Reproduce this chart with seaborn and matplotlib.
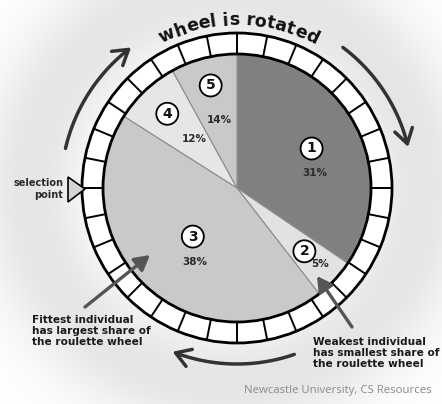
import numpy as np
import matplotlib
matplotlib.use('Agg')
import matplotlib.pyplot as plt
import seaborn as sns
from matplotlib.patches import Wedge, Circle, Polygon
from matplotlib.font_manager import FontProperties, findfont, get_font

# --- data ---
individuals = ['1', '2', '3', '4', '5']
share_labels = ['31%', '5%', '38%', '12%', '14%']
# the sizes the slices are actually drawn with in the picture (% of the wheel)
drawn_share = [34.5, 5.0, 44.5, 8.0, 8.0]
slice_colors = ['#808080', '#e2e2e2', '#c9c9c9', '#e6e6e6', '#c9c9c9']
n_ring_cells = 32

title = 'wheel is rotated'
fittest_note = 'Fittest individual\nhas largest share of\nthe roulette wheel'
weakest_note = 'Weakest individual\nhas smallest share of\nthe roulette wheel'
credit = 'Newcastle University, CS Resources'

sns.set_style('white')
plt.rcParams['font.family'] = ['DejaVu Sans']

W, H = 442, 404
fig = plt.figure(figsize=(W / 100, H / 100), dpi=100)
ax = fig.add_axes([0, 0, 1, 1])

# picture coords: x to the right, y downwards from the top -> flip y
cx, cy = 237, H - 188
r_in, r_out = 134, 155

# soft grey halo just outside the wheel, white further out
xx, yy = np.meshgrid(np.arange(W) + 0.5, np.arange(H) + 0.5)
d = np.hypot(xx - 226, (H - yy) - cy)
lum = np.clip(1 - 0.10 * np.exp(-((d - 195) / 55) ** 2), 0, 1)
ax.imshow(np.dstack([lum] * 3), extent=(0, W, 0, H), origin='upper',
          interpolation='nearest', zorder=0)

# the pie itself
wedges, _ = ax.pie(drawn_share, startangle=90, counterclock=False, center=(cx, cy),
                   radius=r_in, colors=slice_colors,
                   wedgeprops=dict(edgecolor='#8c8c8c', linewidth=0.8))

# outer ring of cells
ax.add_patch(Wedge((cx, cy), r_out, 0, 360, width=r_out - r_in, facecolor='white',
                   edgecolor='black', linewidth=2.0, zorder=3))
for k in range(n_ring_cells):
    a = np.radians(90 + k * 360 / n_ring_cells)
    ax.plot([cx + r_in * np.cos(a), cx + r_out * np.cos(a)],
            [cy + r_in * np.sin(a), cy + r_out * np.sin(a)],
            color='black', lw=1.4, zorder=4)

# circled numbers and percentages
circle_frac = [0.63, 0.69, 0.49, 0.76, 0.79]
pct_offset = [(3, -25), (16, -13), (2, -25), (27, -25), (9, -35)]
for w, num, lab, fr, off in zip(wedges, individuals, share_labels, circle_frac, pct_offset):
    mid = np.radians((w.theta1 + w.theta2) / 2)
    px, py = cx + fr * r_in * np.cos(mid), cy + fr * r_in * np.sin(mid)
    ax.add_patch(Circle((px, py), 11, facecolor='white', edgecolor='black', lw=1.3, zorder=5))
    ax.text(px, py, num, ha='center', va='center', fontsize=10, fontweight='bold',
            color='#111111', zorder=6)
    ax.text(px + off[0], py + off[1], lab, ha='center', va='center', fontsize=7.5,
            fontweight='bold', color='#2a2a2a', zorder=6)


# rotation arrows round the wheel
def rotation_arrow(a0, a1, r=176):
    t = np.radians(np.linspace(a0, a1, 80))
    x, y = cx + r * np.cos(t), cy + r * np.sin(t)
    ax.plot(x[:-3], y[:-3], color='#333333', lw=2.5, solid_capstyle='round', zorder=3)
    ax.annotate('', xy=(x[-1], y[-1]), xytext=(x[-6], y[-6]),
                arrowprops=dict(arrowstyle='->,head_length=0.8,head_width=0.5',
                                color='#333333', lw=2.5, mutation_scale=13,
                                shrinkA=0, shrinkB=0), zorder=3)


rotation_arrow(167, 127)
rotation_arrow(53, 13.5)
rotation_arrow(-71, -111.5)

# curved title along the top of the wheel, spaced by the glyph advances
fp = FontProperties(family='DejaVu Sans', weight='bold')
fs = 12.5
font = get_font(findfont(fp))
font.set_size(fs, 100)
adv = []
for ch in title:
    g = font.load_char(ord(ch))
    adv.append(g.linearHoriAdvance / 65536)
r_txt = 163
total = sum(adv)
s = -total / 2
for ch, a in zip(title, adv):
    ang = 89.5 - np.degrees((s + a / 2) / r_txt)
    s += a
    t = np.radians(ang)
    ax.text(cx + r_txt * np.cos(t), cy + r_txt * np.sin(t), ch, rotation=ang - 90,
            rotation_mode='anchor', ha='center', va='baseline', fontsize=fs,
            fontweight='bold', color='#111111', zorder=6)

# selection point marker
ax.add_patch(Polygon([(68, H - 177), (68, H - 202), (85, H - 189)], closed=True,
                     facecolor='#d4d4d4', edgecolor='black', lw=1.2, zorder=5))
ax.text(63, H - 189, 'selection\npoint', ha='right', va='center', fontsize=7,
        fontweight='bold', color='#2a2a2a', linespacing=1.2)

# notes with arrows
ax.annotate('', xy=(150, H - 255), xytext=(85, H - 307),
            arrowprops=dict(arrowstyle='-|>,head_length=0.9,head_width=0.5',
                            color='#555555', lw=2.4, mutation_scale=10,
                            shrinkA=0, shrinkB=0), zorder=5)
ax.text(32, H - 331, fittest_note, ha='left', va='center', fontsize=7.6,
        fontweight='bold', color='#1a1a1a', linespacing=1.1)
ax.annotate('', xy=(317, H - 276), xytext=(352, H - 327),
            arrowprops=dict(arrowstyle='-|>,head_length=0.9,head_width=0.5',
                            color='#555555', lw=2.4, mutation_scale=10,
                            shrinkA=0, shrinkB=0), zorder=5)
ax.text(313, H - 353, weakest_note, ha='left', va='center', fontsize=7.6,
        fontweight='bold', color='#1a1a1a', linespacing=1.1)

ax.text(432, H - 391, credit, ha='right', va='center', fontsize=8.2,
        family='Open Sans', color='#8a8a8a')

ax.set_xlim(0, W)
ax.set_ylim(0, H)
ax.set_aspect('equal')
ax.axis('off')

fig.savefig('out.png', dpi=100)
